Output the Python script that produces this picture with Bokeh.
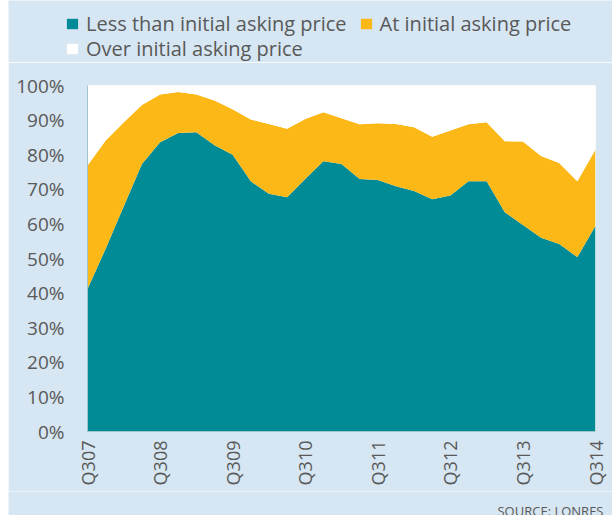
import math
from bokeh.plotting import figure
from bokeh.models import (ColumnDataSource, Range1d, FixedTicker, PrintfTickFormatter,
                          Legend, LegendItem, Label)
from bokeh.embed import file_html
from bokeh.resources import INLINE

quarters = ["Q307", "Q407", "Q108", "Q208", "Q308", "Q408", "Q109", "Q209", "Q309", "Q409",
            "Q110", "Q210", "Q310", "Q410", "Q111", "Q211", "Q311", "Q411", "Q112", "Q212",
            "Q312", "Q412", "Q113", "Q213", "Q313", "Q413", "Q114", "Q214", "Q314"]
less_than = [41.2, 52.8, 65.1, 77.3, 83.6, 86.3, 86.5, 82.7, 80.0, 72.3, 68.7, 67.7, 73.0, 78.1,
             77.3, 73.0, 72.7, 70.9, 69.5, 67.1, 68.2, 72.3, 72.3, 63.4, 59.7, 56.0, 54.2, 50.4, 59.5]
at_price = [35.7, 31.3, 24.3, 17.1, 13.8, 11.8, 10.9, 13.0, 13.1, 17.9, 20.2, 19.8, 17.3, 14.2,
            13.2, 15.8, 16.4, 18.0, 18.4, 18.1, 18.8, 16.5, 17.1, 20.5, 24.1, 23.6, 23.4, 21.9, 22.0]
over_price = [23.1, 15.9, 10.6, 5.6, 2.6, 1.9, 2.6, 4.3, 6.9, 9.8, 11.1, 12.5, 9.7, 7.7,
              9.5, 11.2, 10.9, 11.1, 12.1, 14.8, 13.0, 11.2, 10.6, 16.1, 16.2, 20.4, 22.4, 27.7, 18.5]
series_names = ["Less than initial asking price", "At initial asking price", "Over initial asking price"]
y_ticks = list(range(0, 101, 10))
x_tick_step = 4
source_text = "SOURCE: LONRES"

colors = ["#008b96", "#fbb816", "#ffffff"]
bg = "#d6e6f2"
txt = "#595959"
font = "Open Sans"
stack_cols = ["less", "at", "over"]

src = ColumnDataSource(dict(x=list(range(len(quarters))), less=less_than, at=at_price, over=over_price))


def strip(height, xr, yr):
    f = figure(width=604, height=height, output_backend="svg", toolbar_location=None,
               x_range=xr, y_range=yr, x_axis_type=None, y_axis_type=None, min_border=0)
    f.margin = (0, 0, 0, 8)
    f.background_fill_color = bg
    f.border_fill_color = bg
    f.outline_line_color = None
    f.grid.grid_line_color = None
    return f


# ---- legend strip (top) ----
lg = strip(62, Range1d(1000, 1001), Range1d(0, 100))
lrs = lg.varea_stack(stack_cols, x="x", fill_color=colors, source=src)
items = [LegendItem(label=n, renderers=[r]) for n, r in zip(series_names, lrs)]
leg_style = dict(orientation="horizontal", background_fill_alpha=0, border_line_color=None,
                 padding=0, margin=0, glyph_width=14, glyph_height=13, label_standoff=7,
                 spacing=12, label_text_font=font, label_text_font_size="20px",
                 label_text_color=txt)
lg.add_layout(Legend(items=items[:2], location=(57, 25), **leg_style))
lg.add_layout(Legend(items=items[2:], location=(57, 0), **leg_style))

# ---- main chart ----
p = figure(width=604, height=429, output_backend="svg", toolbar_location=None,
           x_range=Range1d(0, len(quarters) - 1), y_range=Range1d(0, 100),
           min_border_left=79, min_border_right=17, min_border_top=23, min_border_bottom=60)
p.margin = (0, 0, 0, 8)
p.background_fill_color = "#ffffff"
p.border_fill_color = bg
p.outline_line_color = None
p.grid.grid_line_color = None

p.varea_stack(stack_cols, x="x", fill_color=colors, source=src)

p.yaxis.ticker = FixedTicker(ticks=y_ticks)
p.yaxis.formatter = PrintfTickFormatter(format="%d%%")
xt = list(range(0, len(quarters), x_tick_step))
p.xaxis.ticker = FixedTicker(ticks=xt)
p.xaxis.major_label_overrides = {i: quarters[i] for i in xt}
p.xaxis.major_label_orientation = math.pi / 2

for ax in (p.xaxis[0], p.yaxis[0]):
    ax.axis_line_color = "#9ec5cc"
    ax.major_tick_line_color = None
    ax.minor_tick_line_color = None
    ax.major_tick_out = 0
    ax.major_tick_in = 0
    ax.major_label_text_font = font
    ax.major_label_text_color = txt
p.yaxis.major_label_text_font_size = "19px"
p.yaxis.major_label_standoff = 23
p.xaxis.major_label_text_font_size = "18px"
p.xaxis.major_label_standoff = 9

# ---- source strip (bottom) ----
sf = strip(24, Range1d(0, 604), Range1d(0, 24))
sf.add_layout(Label(x=595, y=5, text=source_text, text_align="right",
                    text_baseline="alphabetic", text_font=font, text_font_size="13px",
                    text_color=txt))

open("out.html", "w").write(file_html([lg, p, sf], INLINE))
